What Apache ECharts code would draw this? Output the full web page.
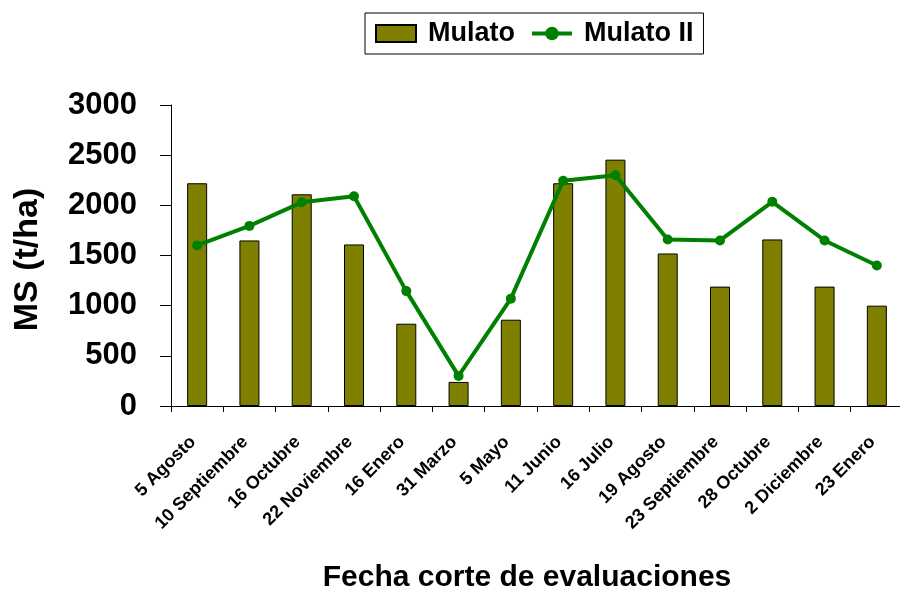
<!DOCTYPE html>
<html>
<head>
<meta charset="utf-8">
<script src="https://cdn.jsdelivr.net/npm/echarts@6/dist/echarts.min.js"></script>
<style>html,body{margin:0;padding:0;background:#fff;}#c{width:900px;height:594px;}</style>
</head>
<body>
<div id="c"></div>
<script>
const categories = ["5 Agosto","10 Septiembre","16 Octubre","22 Noviembre","16 Enero","31 Marzo","5 Mayo","11 Junio","16 Julio","19 Agosto","23 Septiembre","28 Octubre","2 Diciembre","23 Enero"];
const mulato = [2220,1650,2110,1610,820,240,860,2220,2455,1520,1190,1660,1190,1000];
const mulatoII = [1600,1795,2030,2090,1145,300,1070,2245,2300,1660,1650,2035,1650,1400];
const yTicks = {min:0, max:3000, interval:500};

const font = '"Liberation Sans", Arial, sans-serif';
const chart = echarts.init(document.getElementById('c'), null, {renderer:'canvas'});
chart.setOption({
  backgroundColor:'#fff',
  animation:false,
  legend:{
    left:365, top:13,
    padding:[7,10,7,10],
    borderColor:'#000', borderWidth:1,
    itemWidth:40, itemHeight:17, itemGap:15,
    textStyle:{fontFamily:font, fontWeight:'bold', fontSize:27, color:'#000', padding:[0,0,0,7]},
    data:[
      {name:'Mulato', icon:'rect'},
      {name:'Mulato II', lineStyle:{width:4, color:'#008000'}}
    ]
  },
  grid:{left:171, top:105, width:732, bottom:188, containLabel:false, outerBoundsMode:'none'},
  xAxis:{
    type:'category',
    data:categories,
    name:'Fecha corte de evaluaciones',
    nameLocation:'middle',
    nameGap:157,
    nameTextStyle:{fontFamily:font, fontWeight:'bold', fontSize:30, color:'#000', padding:[0,20,0,0]},
    axisLine:{lineStyle:{color:'#000', width:1}},
    axisTick:{show:true, length:6, lineStyle:{color:'#000'}},
    axisLabel:{interval:0, rotate:45, margin:29, padding:[0,6,0,0], fontFamily:font, fontWeight:'bold', fontSize:18, color:'#000'},
    splitLine:{show:false}
  },
  yAxis:{
    type:'value',
    min:yTicks.min, max:yTicks.max, interval:yTicks.interval,
    name:'MS (t/ha)',
    nameLocation:'middle',
    nameRotate:90,
    nameGap:126,
    nameTextStyle:{fontFamily:font, fontWeight:'bold', fontSize:34, color:'#000', padding:[0,8,0,0]},
    axisLine:{show:true, lineStyle:{color:'#000', width:1}},
    axisTick:{show:true, inside:false, length:11, lineStyle:{color:'#000'}},
    axisLabel:{margin:34, fontFamily:font, fontWeight:'bold', fontSize:31, color:'#000', formatter:function(v){return String(v);}},
    splitLine:{show:false}
  },
  series:[
    {
      name:'Mulato', type:'bar', data:mulato, barWidth:20,
      itemStyle:{color:'#808000', borderColor:'#000', borderWidth:1}
    },
    {
      name:'Mulato II', type:'line', data:mulatoII,
      symbol:'circle', symbolSize:10,
      lineStyle:{color:'#008000', width:4},
      itemStyle:{color:'#008000'}
    }
  ]
});
</script>
</body>
</html>
